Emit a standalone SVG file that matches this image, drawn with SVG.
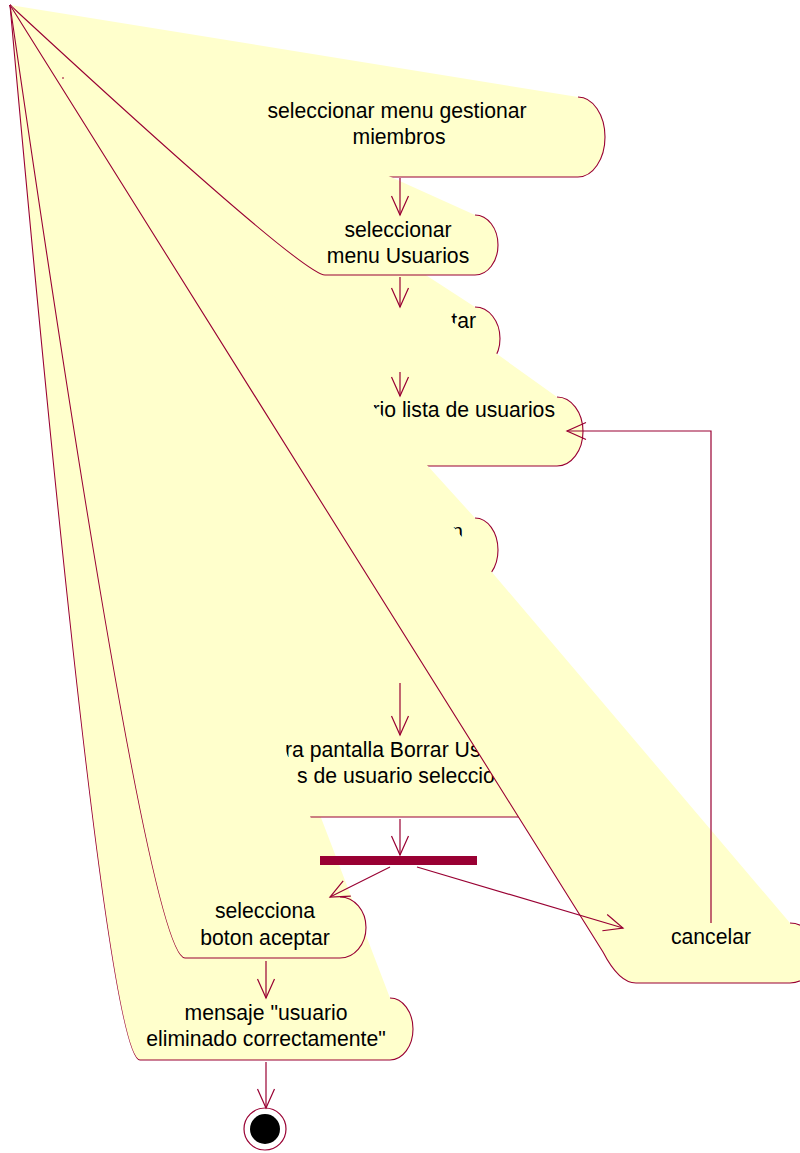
<svg xmlns="http://www.w3.org/2000/svg" width="800" height="1153" viewBox="0 0 800 1153">
<defs>
<marker id="open" viewBox="-21 -10 23 20" markerWidth="23" markerHeight="20" refX="0" refY="0" markerUnits="userSpaceOnUse" orient="auto">
<path d="M-19,-8.5 L0,0 L-19,8.5" fill="none" stroke="#990033" stroke-width="1.2"/>
</marker>
</defs>
<style>
.act{fill:#FFFFCC;stroke:#990033;stroke-width:1.1}
.t{font-family:"Liberation Sans",Arial,sans-serif;font-size:21.2px;fill:#000}
.m{text-anchor:middle}
.e{text-anchor:end}
.c{fill:none;stroke:#990033;stroke-width:1.2}
</style>
<rect width="800" height="1153" fill="#FFFFFF"/>
<g id="node1">
<path class="act" d="M578,97 A27,40 0 0 1 578,177 L216,177 Q189,177 10,5"/>
<text class="t m" x="397" y="118">seleccionar menu gestionar</text>
<text class="t m" x="399" y="144">miembros</text>
</g>
<g id="node3">
<path class="act" d="M475,307 A25,31.5 0 0 1 475,370 L325,370 Q300,370 10,5"/>
<text class="t e" x="476" y="328">tar</text>
</g>
<g id="node4">
<path class="act" d="M557,397 A26,34.5 0 0 1 557,466 L215,466 Q189,466 10,5"/>
<text class="t e" x="555" y="417">rio lista de usuarios</text>
</g>
<g id="node2">
<path class="act" d="M475,215 A23,30 0 0 1 475,275 L325,275 Q302,275 10,5"/>
<text class="t m" x="398" y="237">seleccionar</text>
<text class="t m" x="398" y="263">menu Usuarios</text>
</g>
<g id="node5">
<path class="act" d="M475,518 A23,32 0 0 1 475,582 L323,582 Q300,582 10,5"/>
<text class="t e" x="463" y="539">n</text>
</g>
<g id="mensaje">
<path class="act" d="M390,998 A23,31 0 0 1 390,1060 L140,1060 Q105,1060 10,5"/>
<text class="t m" x="266" y="1020">mensaje "usuario</text>
<text class="t m" x="266" y="1046">eliminado correctamente"</text>
</g>
<g id="node6">
<path class="act" d="M528,735 A27,41 0 0 1 528,817 L230,817 Q203,817 10,5"/>
<text class="t" x="285" y="757">ra pantalla Borrar Us</text>
<text class="t" x="297" y="783">s de usuario seleccio</text>
</g>
<g id="cancelar">
<path class="act" d="M790,923 A27,30 0 0 1 790,983 L636,983 Q619,983 603,952 L10,5"/>
<text class="t m" x="711" y="944">cancelar</text>
</g>
<g id="selecciona">
<path class="act" d="M340,897 A26,30.5 0 0 1 340,958 L185,958 Q148,958 10,5"/>
<text class="t m" x="265" y="918">selecciona</text>
<text class="t m" x="265" y="945">boton aceptar</text>
</g>
<g id="start">
<path d="M62,78 h2" stroke="#990033" stroke-width="1"/>
</g>
<g id="fork">
<rect x="320" y="856" width="157" height="9" fill="#990033"/>
</g>
<g id="end">
<circle cx="265" cy="1129" r="21" fill="#FFFFFF" stroke="#990033" stroke-width="1.2"/>
<circle cx="265" cy="1129" r="15" fill="#000000"/>
</g>
<g id="connectors">
<path class="c" d="M400,178 V215" marker-end="url(#open)"/>
<path class="c" d="M400,277 V307" marker-end="url(#open)"/>
<path class="c" d="M400,372 V396" marker-end="url(#open)"/>
<path class="c" d="M400,683 V735" marker-end="url(#open)"/>
<path class="c" d="M400,819 V855" marker-end="url(#open)"/>
<path class="c" d="M390,867 L330,897" marker-end="url(#open)"/>
<path class="c" d="M417,867 L623,928" marker-end="url(#open)"/>
<path class="c" d="M266,961 V998" marker-end="url(#open)"/>
<path class="c" d="M266,1062 V1108" marker-end="url(#open)"/>
<path class="c" d="M711,923 V431 H567" marker-end="url(#open)"/>
</g>
</svg>
